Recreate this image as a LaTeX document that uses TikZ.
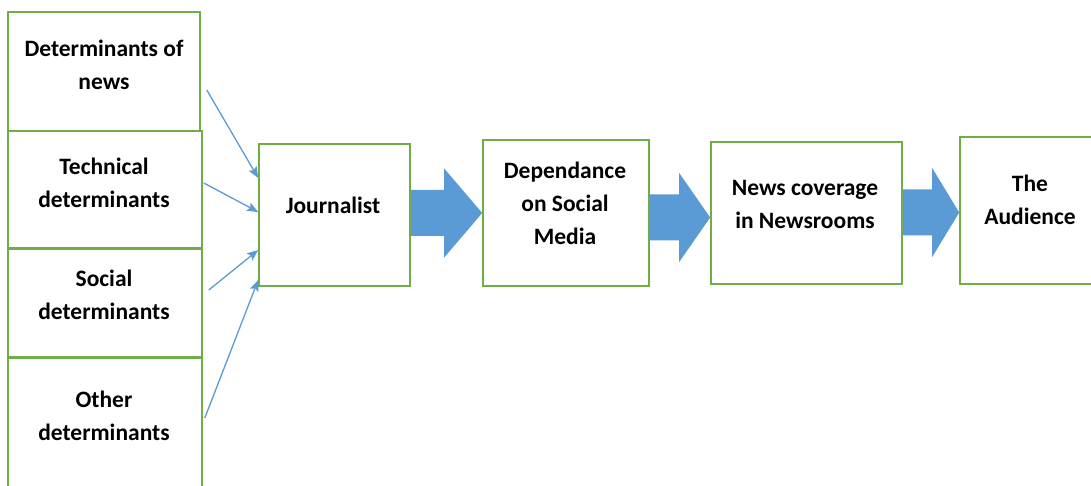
\documentclass[tikz,border=0pt]{standalone}
\usepackage{fontspec}
\setmainfont{Carlito}
\usetikzlibrary{arrows.meta,calc}
\definecolor{boxgreen}{RGB}{112,173,71}
\definecolor{arrowblue}{RGB}{91,155,213}
\begin{document}
\begin{tikzpicture}[x=1pt,y=-1pt,
  box/.style={draw=boxgreen,line width=1.6pt,fill=white,inner sep=0pt},
  lbl/.style={font=\fontsize{23.5}{33}\selectfont\bfseries,align=center,inner sep=0pt},
  thin/.style={draw=arrowblue,line width=1.3pt,-{Stealth[length=11pt,width=9pt,inset=2pt]}},
  blockarrow/.style={fill=arrowblue,draw=none,to path={
    let \p1=(\tikztostart), \p2=(\tikztotarget) in
    (\x1,\y1+23pt) -- (\x2-#1,\y1+23pt) -- (\x2-#1,\y1+44.5pt) -- (\x2,\y1)
    -- (\x2-#1,\y1-44.5pt) -- (\x2-#1,\y1-23pt) -- (\x1,\y1-23pt) -- cycle}}]
\useasboundingbox (0,0) rectangle (1091,486);
\clip (0,0) rectangle (1091,486);

% determinant boxes on the left
\node[box,minimum width=192,minimum height=119] (b1) at (104,71.5) {};
\node[box,minimum width=194,minimum height=117] (b2) at (105,189.5) {};
\node[box,minimum width=194,minimum height=108] (b3) at (105,303) {};
\node[box,minimum width=194,minimum height=140] (b4) at (105,428) {};

% main chain
\node[box,minimum width=151,minimum height=142] (j) at (334.5,215) {};
\node[box,minimum width=166,minimum height=146] (d) at (566,213) {};
\node[box,minimum width=191,minimum height=142] (n) at (806.5,213) {};
\node[box,minimum width=150,minimum height=147] (a) at (1035,210.5) {};

% texts
\node[lbl] (t1) at (104,65) {Determinants of\\news};
\node[lbl] (t2) at (104,182.5) {Technical\\determinants};
\node[lbl] (t3) at (104,294.5) {Social\\determinants};
\node[lbl] (t4) at (104,415.5) {Other\\determinants};
\node[lbl] (tj) at (333,205) {Journalist};
\node[lbl] (td) at (565,203) {Dependance\\on Social\\Media};
\node[lbl] (tn) at (805,204) {News coverage\\in Newsrooms};
\node[lbl] (ta) at (1030,199.5) {The\\Audience};

% thin arrows into the journalist box
\draw[thin] ($(b1.east)+(6,18.5)$) -- ($(j.west)+(0,-37)$);
\draw[thin] ($(b2.east)+(1,-6.5)$) -- ($(j.west)+(0,-3)$);
\draw[thin] ($(b3.east)+(6,-13)$) -- ($(j.west)+(0,35)$);
\draw[thin] ($(b4.east)+(2,-10)$) -- ($(j.west)+(0,65)$);

% block arrows along the chain
\path[blockarrow=38pt] ([yshift=2pt]j.east) to ([yshift=2pt]d.west);
\path[blockarrow=31pt] ([yshift=-4.5pt]d.east) to ([yshift=-4.5pt]n.west);
\path[blockarrow=27pt] ([yshift=0.5pt]n.east) to ([yshift=0.5pt]a.west);
\end{tikzpicture}
\end{document}
